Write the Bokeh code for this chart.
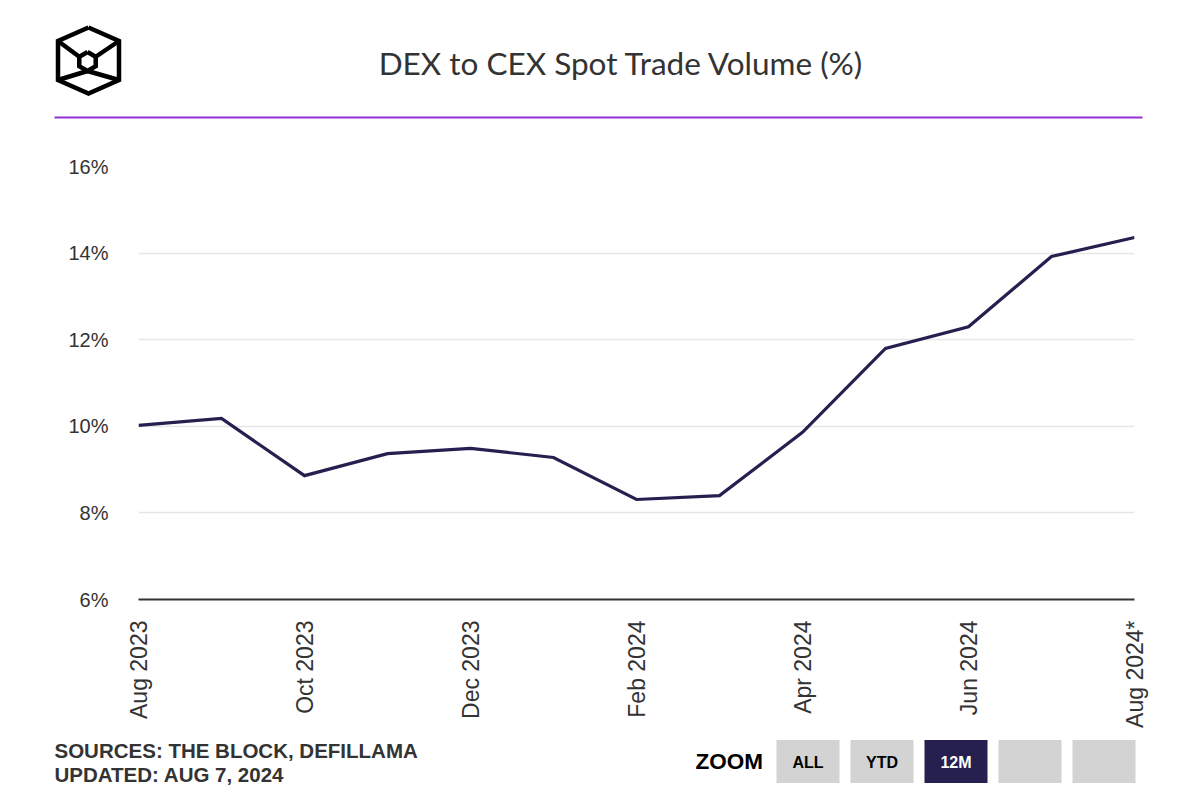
import math
from bokeh.plotting import figure
from bokeh.models import Range1d, FixedTicker, PrintfTickFormatter
from bokeh.core.properties import value
from bokeh.embed import file_html
from bokeh.resources import INLINE

# ---------------- data ----------------
months = ["Aug 2023", "Sep 2023", "Oct 2023", "Nov 2023", "Dec 2023", "Jan 2024",
          "Feb 2024", "Mar 2024", "Apr 2024", "May 2024", "Jun 2024", "Jul 2024",
          "Aug 2024*"]
dex_cex_pct = [10.02, 10.18, 8.86, 9.37, 9.49, 9.28, 8.31, 8.40, 9.86, 11.80, 12.30, 13.92, 14.36]
y_ticks = [6, 8, 10, 12, 14, 16]
x_tick_idx = [0, 2, 4, 6, 8, 10, 12]
title_text = "DEX to CEX Spot Trade Volume (%)"
source_lines = ["SOURCES: THE BLOCK, DEFILLAMA", "UPDATED: AUG 7, 2024"]
zoom_buttons = ["ALL", "YTD", "12M", "", ""]

W = 1188
OFF = 0  # page offset of the figures
TXT = "#333333"
LINE = "#25204f"
HDR_END = 133
MAIN_END = 739


def blank(y0, y1):
    f = figure(width=W, height=y1 - y0, output_backend="svg", toolbar_location=None,
               x_range=Range1d(OFF, OFF + W), y_range=Range1d(y1, y0),
               x_axis_type=None, y_axis_type=None, min_border=0,
               outline_line_color=None, background_fill_color="white",
               border_fill_color="white")
    f.grid.visible = False
    return f

# ---------------- header ----------------
hdr = blank(OFF, HDR_END)
ox = [88, 118.5, 118.5, 88, 57.5, 57.5, 88]
oy = [27, 40.5, 79.5, 93, 79.5, 40.5, 27]
cx, cy, r = 87, 61, 9.5
ix = [cx + r * math.cos(math.radians(a)) for a in range(-90, 271, 60)]
iy = [cy + r * math.sin(math.radians(a)) for a in range(-90, 271, 60)]
# vertices: 0 top, 1 upper-right, 2 lower-right, 3 bottom, 4 lower-left, 5 upper-left
hdr.line(ox, oy, line_color="black", line_width=4.5, line_join="miter")
hdr.line(ix, iy, line_color="black", line_width=4.5, line_join="miter")
hdr.multi_line([[57.5, ix[5]], [118.5, ix[1]], [57.5, ix[3]], [118.5, ix[3]]],
               [[40.5, iy[5]], [40.5, iy[1]], [79.5, iy[3]], [79.5, iy[3]]],
               line_color="black", line_width=4.5)
hdr.text(x=[621], y=[62], text=[title_text], text_align="center", text_baseline="middle",
         text_font=value("Lato"), text_font_size="31.5px", text_color=TXT)
hdr.segment(x0=[54], y0=[117], x1=[1142], y1=[117], line_color="#9430d4", line_width=2)

# ---------------- main chart ----------------
p = figure(width=W, height=MAIN_END - HDR_END, output_backend="svg", toolbar_location=None,
           x_range=Range1d(0, 12), y_range=Range1d(6, 16),
           min_border_left=138 - OFF, min_border_right=OFF + W - 1134,
           min_border_top=166 - HDR_END, min_border_bottom=MAIN_END - 599,
           outline_line_color=None, background_fill_color="white", border_fill_color="white")
p.line(list(range(len(months))), dex_cex_pct, line_color=LINE, line_width=3.2, line_join="miter")

p.xgrid.visible = False
p.ygrid.grid_line_color = "#e6e6e6"
p.ygrid.grid_line_width = 1.5
p.yaxis.ticker = FixedTicker(ticks=y_ticks)
p.yaxis.formatter = PrintfTickFormatter(format="%d%%")
p.yaxis.axis_line_color = None
p.yaxis.major_tick_line_color = None
p.yaxis.minor_tick_line_color = None
p.yaxis.major_tick_out = 0
p.yaxis.major_label_standoff = 30
p.yaxis.major_label_text_font = "Liberation Sans"
p.yaxis.major_label_text_font_size = "20px"
p.yaxis.major_label_text_color = TXT

p.xaxis.ticker = FixedTicker(ticks=x_tick_idx)
p.xaxis.major_label_overrides = {i: months[i] for i in x_tick_idx}
p.xaxis.major_label_orientation = math.pi / 2
p.xaxis.axis_line_color = TXT
p.xaxis.axis_line_width = 2
p.xaxis.major_tick_line_color = None
p.xaxis.minor_tick_line_color = None
p.xaxis.major_tick_out = 0
p.xaxis.major_label_standoff = 21
p.xaxis.major_label_text_font = "Liberation Sans"
p.xaxis.major_label_text_font_size = "23px"
p.xaxis.major_label_text_color = TXT

# ---------------- footer ----------------
ftr = blank(MAIN_END, 792)
ftr.text(x=[54, 54], y=[750, 774], text=source_lines, text_align="left",
         text_baseline="middle", text_font=value("Liberation Sans"),
         text_font_style="bold", text_font_size="20.5px", text_color=TXT)
ftr.text(x=[695], y=[761], text=["ZOOM"], text_align="left", text_baseline="middle",
         text_font=value("Liberation Sans"), text_font_style="bold",
         text_font_size="22.5px", text_color="black")
bx = [807.5, 881.5, 955.5, 1029.5, 1103.5]
bfill = ["#d3d3d3", "#d3d3d3", LINE, "#d3d3d3", "#d3d3d3"]
tcol = ["black", "black", "white", "black", "black"]
ftr.rect(x=bx, y=[761] * 5, width=63, height=43, fill_color=bfill, line_color=None)
ftr.text(x=bx, y=[762] * 5, text=zoom_buttons, text_align="center", text_baseline="middle",
         text_font=value("Liberation Sans"), text_font_style="bold",
         text_font_size="16px", text_color=tcol)

open("out.html", "w").write(file_html([hdr, p, ftr], INLINE))
